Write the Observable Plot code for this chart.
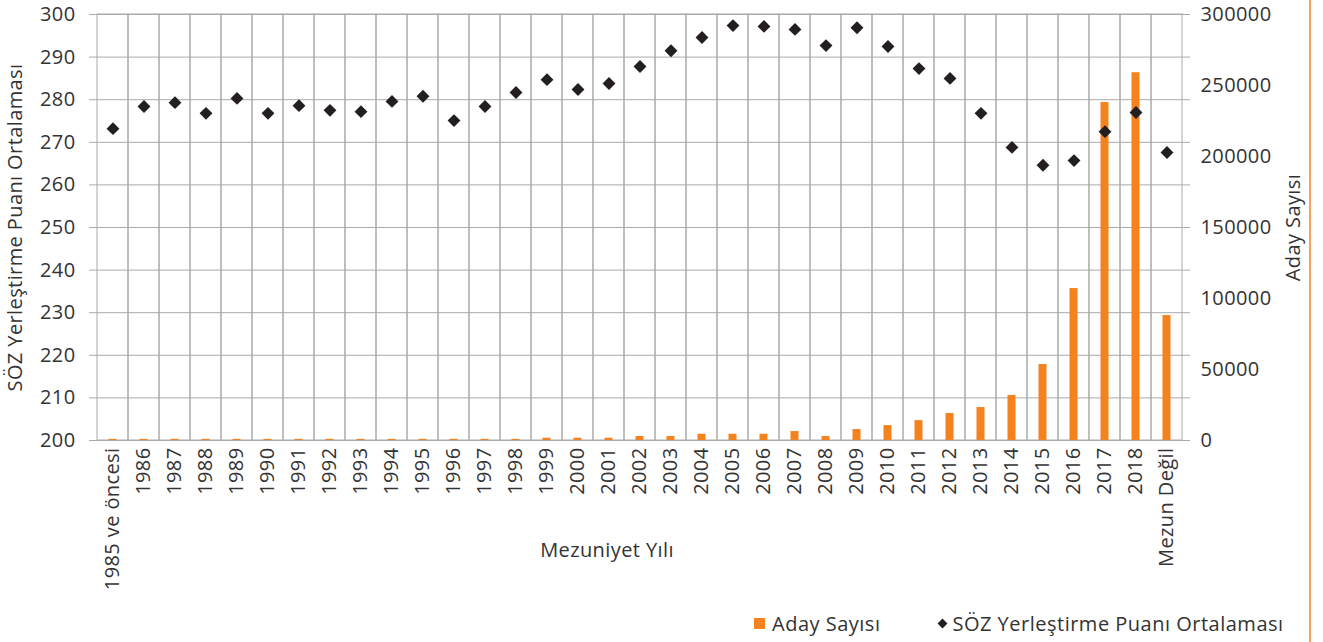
<!DOCTYPE html>
<html>
<head>
<meta charset="utf-8">
<script src="https://cdn.jsdelivr.net/npm/d3@7"></script>
<script src="https://cdn.jsdelivr.net/npm/@observablehq/plot@0.6"></script>
<style>
  html, body { margin: 0; padding: 0; background: #fff; }
  #wrap { position: relative; width: 1323px; height: 642px; overflow: hidden; font-family: "Open Sans", Lato, sans-serif; color: #333; }
  #edge { position: absolute; left: 1309px; top: 0; width: 2px; height: 642px; background: #f5a25e; }
  #legend { position: absolute; top: 610px; left: 754px; font-size: 20px; letter-spacing: 0.5px; display: flex; align-items: center; white-space: nowrap; }
  #legend .sq { display: inline-block; width: 11px; height: 11px; background: #f4821f; margin-right: 7px; }
  #legend .dm { display: inline-block; width: 7px; height: 7px; background: #231f20; transform: rotate(45deg); margin-left: 59px; margin-right: 6px; }
</style>
</head>
<body>
<div id="wrap">
  <div id="chart"></div>
  <div id="edge"></div>
  <div id="legend"><span class="sq"></span><span>Aday Sayısı</span><span class="dm"></span><span>SÖZ Yerleştirme Puanı Ortalaması</span></div>
</div>
<script>
const categories = ["1985 ve öncesi","1986","1987","1988","1989","1990","1991","1992","1993","1994","1995","1996","1997","1998","1999","2000","2001","2002","2003","2004","2005","2006","2007","2008","2009","2010","2011","2012","2013","2014","2015","2016","2017","2018","Mezun Değil"];
const scores = [273.2,278.4,279.3,276.8,280.3,276.8,278.6,277.5,277.2,279.6,280.8,275.1,278.4,281.7,284.7,282.4,283.8,287.8,291.5,294.6,297.4,297.2,296.5,292.7,296.9,292.5,287.3,285.0,276.8,268.8,264.6,265.7,272.5,277.0,267.6];
const counts = [800,800,800,800,800,800,800,800,800,800,800,800,800,800,1600,1600,1600,2800,2800,4400,4400,4400,6300,2800,7700,10500,14000,19000,23200,31700,53500,107000,238000,259000,88000];
const leftTicks = [200,210,220,230,240,250,260,270,280,290,300];
const rightTicks = [0,50000,100000,150000,200000,250000,300000];
const leftTitle = "SÖZ Yerleştirme Puanı Ortalaması";
const rightTitle = "Aday Sayısı";
const xTitle = "Mezuniyet Yılı";
const countPerPoint = 3000; // right axis 0..300000 aligned with left 200..300

const data = categories.map((c, i) => ({cat: c, score: scores[i], count: counts[i]}));
const toLeft = c => 200 + c / countPerPoint;

const chart = Plot.plot({
  width: 1323,
  height: 600,
  marginLeft: 89,
  marginRight: 133,
  marginTop: 14,
  marginBottom: 160,
  style: {fontFamily: "'Open Sans', Lato, sans-serif", fontSize: "20px", letterSpacing: "0.4px", color: "#333", background: "transparent"},
  x: {domain: categories, padding: 0, label: null},
  y: {domain: [200, 300], label: null},
  marks: [
    Plot.barY(data, {x: "cat", y1: 200, y2: 300, fill: "none", stroke: "#aaa", strokeWidth: 1}),
    Plot.gridY(leftTicks, {stroke: "#aaa", strokeOpacity: 1}),
    Plot.barY(data, {x: "cat", y1: 200, y2: d => toLeft(d.count), fill: "#f4821f", insetLeft: 11.5, insetRight: 11.5}),
    Plot.dot(data, {x: "cat", y: "score", symbol: "diamond2", r: 5.8, fill: "#231f20", stroke: "none"}),
    Plot.axisY(leftTicks, {anchor: "left", tickSize: 0, tickPadding: 14, label: null}),
    Plot.axisY(rightTicks.map(toLeft), {anchor: "right", tickSize: 0, tickPadding: 10, tickFormat: d => String(Math.round((d - 200) * countPerPoint)), label: null}),
    Plot.axisX({tickRotate: -90, tickSize: 0, tickPadding: 7, label: null}),
    Plot.text([leftTitle], {text: d => d, frameAnchor: "left", dx: -74, rotate: -90, textAnchor: "middle", lineAnchor: "middle", fill: "#333"}),
    Plot.text([rightTitle], {text: d => d, frameAnchor: "right", dx: 103, rotate: -90, textAnchor: "middle", lineAnchor: "middle", fill: "#333"}),
    Plot.text([xTitle], {text: d => d, frameAnchor: "bottom", dx: -33, dy: 116, fill: "#333"})
  ]
});
document.getElementById("chart").appendChild(chart);
</script>
</body>
</html>
